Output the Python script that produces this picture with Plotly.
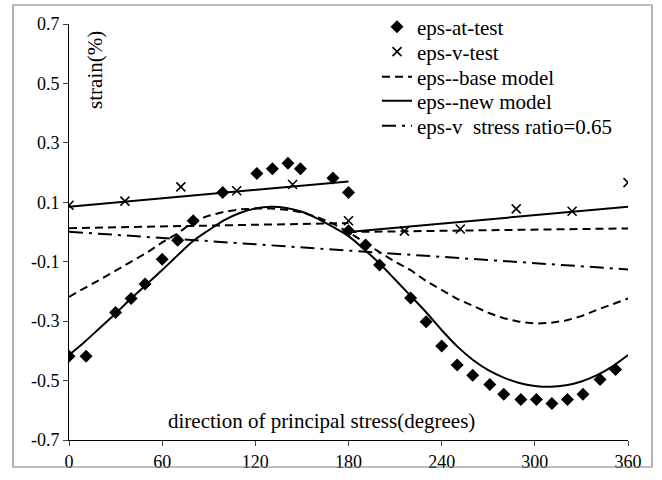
import plotly.graph_objects as go

# ---------------- data ----------------
at_test_x = [0, 11, 30, 40, 49, 60, 70, 80, 99, 121, 131, 141, 149, 170, 180, 180,
             191, 200, 220, 230, 240, 250, 260, 271, 280, 291, 301, 311, 321, 331, 342, 352]
at_test_y = [-0.418, -0.418, -0.271, -0.224, -0.175, -0.092, -0.028, 0.038, 0.133, 0.197,
             0.213, 0.231, 0.213, 0.182, 0.133, 0.004, -0.044, -0.111, -0.222, -0.302,
             -0.384, -0.448, -0.482, -0.513, -0.546, -0.564, -0.564, -0.577, -0.564,
             -0.546, -0.496, -0.463]

v_test_x = [0, 36, 72, 108, 144, 180, 216, 252, 288, 324, 360]
v_test_y = [0.090, 0.104, 0.152, 0.139, 0.160, 0.038, 0.003, 0.010, 0.078, 0.070, 0.166]

curve_x = [0, 10, 20, 30, 40, 50, 60, 70, 80, 90, 100, 110, 120, 130, 140, 150, 160, 170,
           180, 190, 200, 210, 220, 230, 240, 250, 260, 270, 280, 290, 300, 310, 320, 330,
           340, 350, 360]
base_at_y = [-0.218, -0.19, -0.16, -0.13, -0.10, -0.07, -0.035, -0.005, 0.035, 0.055,
             0.068, 0.076, 0.079, 0.079, 0.075, 0.066, 0.05, 0.028, 0.0, -0.035, -0.068,
             -0.10, -0.128, -0.165, -0.195, -0.225, -0.248, -0.272, -0.29, -0.302, -0.308,
             -0.306, -0.298, -0.283, -0.262, -0.242, -0.224]
new_at_y = [-0.414, -0.37, -0.322, -0.274, -0.224, -0.176, -0.128, -0.078, -0.030, 0.006,
            0.040, 0.064, 0.079, 0.085, 0.081, 0.068, 0.045, 0.017, -0.014, -0.058, -0.106,
            -0.16, -0.215, -0.27, -0.33, -0.385, -0.43, -0.465, -0.49, -0.508, -0.518,
            -0.521, -0.516, -0.503, -0.482, -0.452, -0.414]

# volumetric model segments (two half-cycles)
new_v_x = [0, 180, None, 180, 360]
new_v_y = [0.085, 0.170, None, 0.000, 0.085]
base_v_x = [0, 180, None, 180, 360]
base_v_y = [0.013, 0.030, None, 0.000, 0.012]
ratio_x = [0, 360]
ratio_y = [0.001, -0.126]

x_ticks = [0, 60, 120, 180, 240, 300, 360]
y_ticks = [-0.7, -0.5, -0.3, -0.1, 0.1, 0.3, 0.5, 0.7]
y_tick_text = ["-0.7", "-0.5", "-0.3", "-0.1", "0.1", "0.3", "0.5", "0.7"]

FONT = "Liberation Serif, Times New Roman, serif"

fig = go.Figure()
fig.add_trace(go.Scatter(x=at_test_x, y=at_test_y, mode="markers", name="eps-at-test",
                         legend="legend",
                         marker=dict(symbol="diamond", size=10, color="black")))
fig.add_trace(go.Scatter(x=v_test_x, y=v_test_y, mode="markers", name="eps-v-test",
                         legend="legend2",
                         marker=dict(symbol="x-thin", size=9, color="black",
                                     line=dict(width=1.6, color="black"))))
fig.add_trace(go.Scatter(x=curve_x, y=base_at_y, mode="lines", name="eps--base model",
                         legend="legend3", legendgroup="base",
                         line=dict(color="black", width=2, dash="8px,5px")))
fig.add_trace(go.Scatter(x=base_v_x, y=base_v_y, mode="lines", name="eps--base model",
                         legend="legend3", legendgroup="base", showlegend=False,
                         line=dict(color="black", width=2, dash="8px,5px")))
fig.add_trace(go.Scatter(x=curve_x, y=new_at_y, mode="lines", name="eps--new model",
                         legend="legend4", legendgroup="new",
                         line=dict(color="black", width=2), line_shape="spline"))
fig.add_trace(go.Scatter(x=new_v_x, y=new_v_y, mode="lines", name="eps--new model",
                         legend="legend4", legendgroup="new", showlegend=False,
                         line=dict(color="black", width=2)))
fig.add_trace(go.Scatter(x=ratio_x, y=ratio_y, mode="lines",
                         name="eps-v\u00a0 stress ratio=0.65", legend="legend5",
                         line=dict(color="black", width=2, dash="14px,6px,3px,6px")))


def leg(yv):
    return dict(x=0.551, y=yv, xanchor="left", yanchor="middle",
                font=dict(family=FONT, size=21, color="black"),
                bgcolor="rgba(0,0,0,0)", itemwidth=30)


fig.update_layout(
    width=662, height=480,
    margin=dict(l=69, r=34, t=24, b=40, autoexpand=False),
    paper_bgcolor="white", plot_bgcolor="white",
    font=dict(family=FONT, size=18, color="black"),
    showlegend=True,
    legend=leg(0.9928), legend2=leg(0.9327), legend3=leg(0.8726),
    legend4=leg(0.8149), legend5=leg(0.7548),
    xaxis=dict(range=[0, 360], tickvals=x_ticks, ticks="outside", ticklen=5,
               showline=True, linecolor="black", linewidth=1, showgrid=False,
               zeroline=False, tickfont=dict(family=FONT, size=18)),
    yaxis=dict(range=[-0.7, 0.7], tickvals=y_ticks, ticktext=y_tick_text,
               ticks="outside", ticklen=5, showline=True, linecolor="black",
               linewidth=1, showgrid=False, zeroline=False,
               tickfont=dict(family=FONT, size=18)),
    annotations=[
        dict(text="strain(%)", xref="paper", yref="paper", x=0.046, y=0.889,
             xanchor="center", yanchor="middle",
             showarrow=False, textangle=-90, font=dict(family=FONT, size=21)),
        dict(text="direction of principal stress(degrees)", xref="paper", yref="paper",
             x=0.452, y=0.046, xanchor="center", yanchor="middle",
             showarrow=False, font=dict(family=FONT, size=21)),
    ],
    shapes=[dict(type="rect", xref="paper", yref="paper", x0=-0.1002, x1=1.043,
                 y0=-0.0649, y1=1.0457, line=dict(color="#7f7f7f", width=1.2))],
)

fig.write_html("out.html", config={"displayModeBar": False},
               post_script="document.body.style.margin='0';")
